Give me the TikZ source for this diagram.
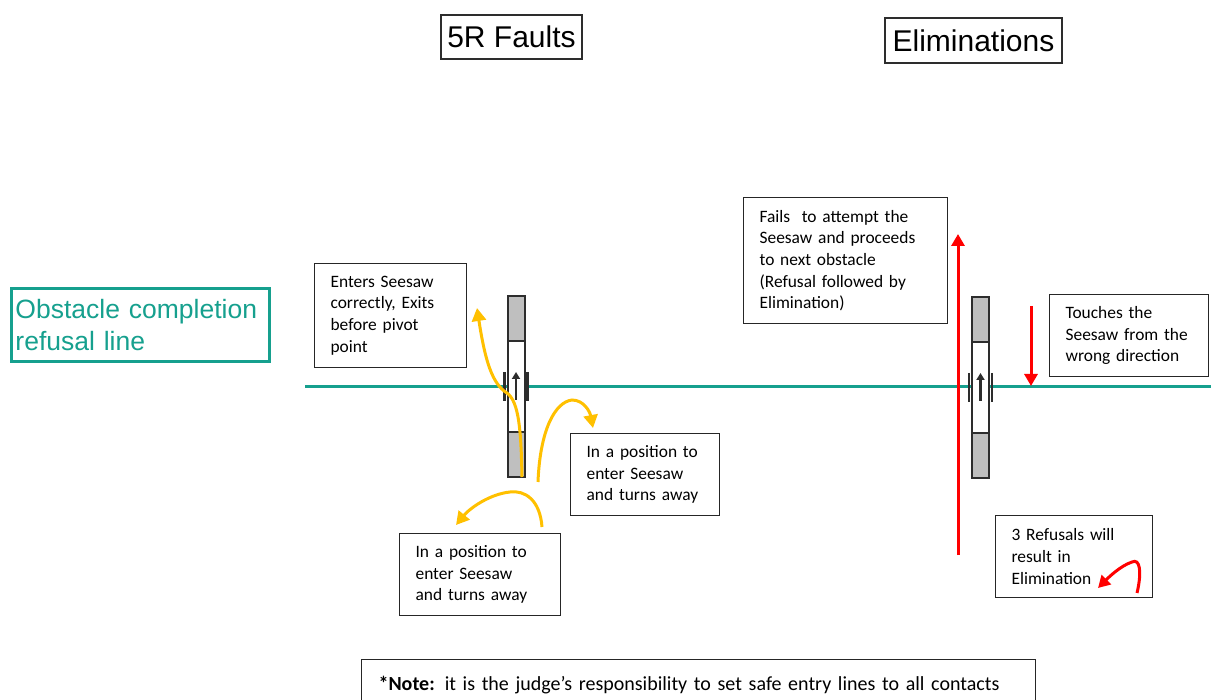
\documentclass[tikz,border=0pt]{standalone}
\usepackage{fontspec}
\setmainfont{Carlito}
\newfontfamily\arialfont{Liberation Sans}
\usetikzlibrary{arrows.meta}
\definecolor{tealline}{RGB}{22,160,142}
\definecolor{ambr}{RGB}{255,192,0}
\definecolor{seegray}{RGB}{191,191,191}
\definecolor{seedark}{RGB}{45,45,45}
\tikzset{
  txtbox/.style={draw=black!85, line width=1.2pt, anchor=north west, align=left,
    inner xsep=16pt, inner ysep=0pt, font=\fontsize{17.4}{21.7}\selectfont},
  titlebox/.style={draw=seedark, line width=2pt, inner sep=0pt,
    font=\arialfont\fontsize{30}{34}\selectfont},
  seeline/.style={draw=seedark, line width=2pt},
  yarrow/.style={ambr, line width=3pt, -{Triangle[length=13pt,width=14pt]}},
  rarrow/.style={red, line width=3pt, -{Triangle[length=12pt,width=13pt]}}
}
\begin{document}
\begin{tikzpicture}[x=1pt,y=-1pt]
\useasboundingbox (0,0) rectangle (1211,700);
\node[titlebox, minimum width=141pt, minimum height=44pt] (faults) at (511.5,37) {5R Faults};
\node[titlebox, minimum width=177pt, minimum height=45pt] (elim) at (973.5,40.5) {Eliminations};
\node[draw=tealline, line width=3pt, text=tealline, anchor=north west, align=left,
  inner xsep=4pt, inner ysep=0pt, text width=250pt, minimum height=73pt,
  font=\arialfont\fontsize{26.5}{32}\selectfont] (refusal) at (10,287) {Obstacle completion\\refusal line};
\draw[tealline, line width=3pt] (305,387) -- (1211,387);
\foreach \sx/\sy in {507.5/296,972/297} {
  \fill[white] (\sx,\sy) rectangle ++(17,181);
  \fill[seegray] (\sx,\sy) rectangle ++(17,45);
  \fill[seegray] (\sx,\sy+136) rectangle ++(17,45);
  \draw[seeline] (\sx,\sy) rectangle ++(17,181);
  \draw[seeline] (\sx,\sy+45) -- ++(17,0);
  \draw[seeline] (\sx,\sy+136) -- ++(17,0);
  \draw[seeline, line width=2.6pt] (\sx-3,\sy+76) -- ++(0,29);
  \draw[seeline, line width=2.6pt] (\sx+20,\sy+76) -- ++(0,29);
  \draw[seeline, line width=2.4pt, -{Triangle[length=7pt,width=8pt]}] (\sx+8.5,\sy+104) -- ++(0,-28);
}
\node[txtbox, text width=120pt, minimum height=104pt] (enters) at (314,263) {Enters Seesaw\\correctly, Exits\\before pivot\\point};
\node[txtbox, text width=117pt, minimum height=82pt] (turnsA) at (570,433) {In a position to\\enter Seesaw\\and turns away};
\node[txtbox, text width=129pt, minimum height=82pt] (turnsB) at (399,533) {In a position to\\enter Seesaw\\and turns away};
\node[txtbox, text width=172pt, minimum height=126pt] (fails) at (743,197) {Fails\ \ to attempt the\\Seesaw and proceeds\\to next obstacle\\(Refusal followed by\\Elimination)};
\node[txtbox, text width=127pt, minimum height=82pt] (touches) at (1049,294) {Touches the\\Seesaw from the\\wrong direction};
\node[txtbox, text width=125pt, minimum height=82pt] (three) at (995,515) {3 Refusals will\\result in\\Elimination};
\node[txtbox, text width=640pt, minimum height=50pt, inner xsep=17pt,
  font=\fontsize{20}{24}\selectfont] (note) at (361,659) {\textbf{*Note:} it is the judge’s responsibility to set safe entry lines to all contacts};
\draw[yarrow] (522,477) .. controls (521,430) and (519,402) .. (507,393) .. controls (492,384) and (485,360) .. (477,308);
\draw[yarrow] (538,482) .. controls (540,430) and (555,402) .. (572,400) .. controls (584,400) and (590,412) .. (593,428);
\draw[yarrow] (542,527) .. controls (540,500) and (525,490) .. (510,492) .. controls (490,494) and (470,508) .. (456,525);
\draw[rarrow] (958,555) -- (958,234);
\draw[rarrow] (1031,306) -- (1031,386);
\draw[rarrow] (1137,593) .. controls (1142,572) and (1140,558) .. (1132,562) .. controls (1120,566) and (1108,578) .. (1098,588);
\end{tikzpicture}
\end{document}
